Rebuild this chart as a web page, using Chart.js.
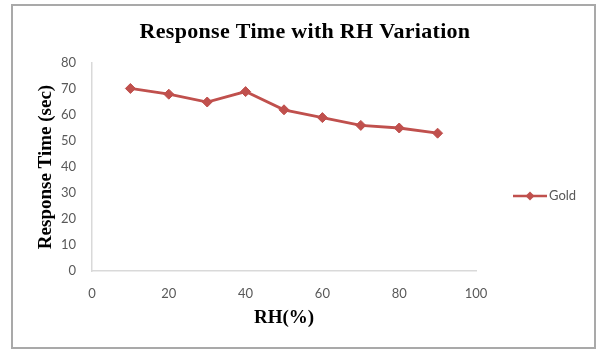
<!DOCTYPE html>
<html>
<head>
<meta charset="utf-8">
<script src="https://cdn.jsdelivr.net/npm/chart.js@4/dist/chart.umd.min.js"></script>
<style>
  html, body { margin: 0; padding: 0; background: #fff; }
  #wrap { width: 597px; height: 351px; }
</style>
</head>
<body>
<div id="wrap"><canvas id="myChart" width="597" height="351"></canvas></div>
<script>
const rh = [10, 20, 30, 40, 50, 60, 70, 80, 90];
const responseTime = [70.2, 68, 65, 69, 62, 59, 56, 55, 53];
const seriesName = 'Gold';
const chartTitle = 'Response Time with RH Variation';
const xTicks = [0, 20, 40, 60, 80, 100];
const yTicks = [0, 10, 20, 30, 40, 50, 60, 70, 80];

const red = '#c0504d';
const tickColor = '#595959';
const axisColor = '#d9d9d9';

// outer frame like the Excel chart border + the title centred on the whole frame
const frame = {
    id: 'frame',
    beforeDraw(chart) {
        const c = chart.ctx;
        c.save();
        c.fillStyle = '#fff';
        c.fillRect(0, 0, chart.width, chart.height);
        c.strokeStyle = '#a9a9a9';
        c.lineWidth = 2;
        c.strokeRect(12, 5, 583, 343);
        c.fillStyle = '#000';
        c.font = 'bold 22px "Liberation Serif"';
        c.letterSpacing = '0.3px';
        c.textAlign = 'center';
        c.textBaseline = 'middle';
        c.fillText(chartTitle, 305, 32);
        c.restore();
    }
};

// legend: short line with a diamond, then the series name
const sideLegend = {
    id: 'sideLegend',
    afterDraw(chart) {
        const c = chart.ctx;
        const a = chart.chartArea;
        const ds = chart.data.datasets[0];
        const x0 = a.right + 37, x1 = x0 + 34, y = a.bottom - 75;
        c.save();
        c.strokeStyle = ds.borderColor;
        c.lineWidth = 2.5;
        c.beginPath();
        c.moveTo(x0, y);
        c.lineTo(x1, y);
        c.stroke();
        c.fillStyle = ds.borderColor;
        c.beginPath();
        const r = 4.5, cx = (x0 + x1) / 2;
        c.moveTo(cx, y - r); c.lineTo(cx + r, y); c.lineTo(cx, y + r); c.lineTo(cx - r, y); c.closePath();
        c.fill();
        c.fillStyle = tickColor;
        c.font = '13px Lato';
        c.textBaseline = 'middle';
        c.fillText(ds.label, x1 + 2, y);
        c.restore();
    }
};

const data = {
    datasets: [{
        label: seriesName,
        data: rh.map((x, i) => ({x: x, y: responseTime[i]})),
        borderColor: red,
        backgroundColor: red,
        borderWidth: 2.8,
        pointStyle: 'rectRot',
        pointRadius: 5,
        pointBorderWidth: 1,
        tension: 0
    }]
};

const config = {
    type: 'line',
    data: data,
    plugins: [frame, sideLegend],
    options: {
        responsive: false,
        animation: false,
        layout: { padding: { left: 26, right: 121, top: 63, bottom: 0 } },
        plugins: {
            legend: { display: false },
            tooltip: { enabled: false }
        },
        scales: {
            x: {
                type: 'linear',
                min: 0,
                max: 100,
                afterBuildTicks: s => { s.ticks = xTicks.map(v => ({value: v})); },
                afterFit: s => { s.height = 80; },
                grid: { display: false },
                border: { color: axisColor, width: 1.5 },
                ticks: { color: tickColor, font: { family: 'Lato', size: 13 }, padding: 7 },
                title: {
                    display: true,
                    text: 'RH(%)',
                    color: '#000',
                    font: { family: 'Liberation Serif', size: 19, weight: 'bold' },
                    padding: { top: 22, bottom: 22 }
                }
            },
            y: {
                min: 0,
                max: 80,
                afterBuildTicks: s => { s.ticks = yTicks.map(v => ({value: v})); },
                afterFit: s => { s.width = 66; },
                grid: { display: false },
                border: { color: axisColor, width: 1.5 },
                ticks: { color: tickColor, font: { family: 'Lato', size: 13 }, padding: 8 },
                title: {
                    display: true,
                    text: 'Response Time (sec)',
                    color: '#000',
                    font: { family: 'Liberation Serif', size: 19, weight: 'bold' },
                    padding: { top: 8.5, bottom: 8.5 }
                }
            }
        }
    }
};

const myChart = new Chart(document.querySelector('#myChart').getContext('2d'), config);
</script>
</body>
</html>
